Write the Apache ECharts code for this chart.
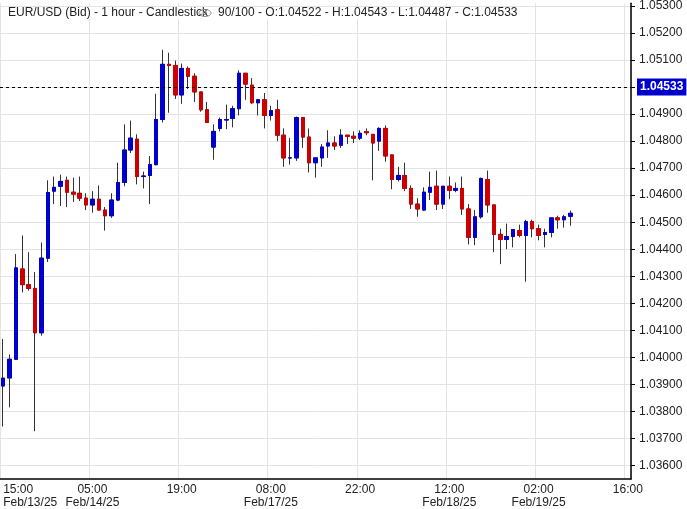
<!DOCTYPE html>
<html>
<head>
<meta charset="utf-8">
<script src="https://cdn.jsdelivr.net/npm/echarts@6/dist/echarts.min.js"></script>
<style>
  html, body { margin: 0; padding: 0; background: #fff; }
  #chart { width: 687px; height: 509px; }
</style>
</head>
<body>
<div id="chart"></div>
<script>
// trading sessions: [date, first hour, last hour] -> one category per hour
var sessions = [
  ['Feb/13/25', 15, 23],
  ['Feb/14/25', 0, 22],
  ['Feb/16/25', 22, 23],
  ['Feb/17/25', 0, 23],
  ['Feb/18/25', 0, 23],
  ['Feb/19/25', 0, 16]
];

var opens = [
  1.03894, 1.03924, 1.03993, 1.04327, 1.04269, 1.04255, 1.04091, 1.04367, 1.04615, 1.04633,
  1.04655, 1.04611, 1.04607, 1.04589, 1.04564, 1.04585, 1.04545, 1.04524, 1.04582, 1.04647,
  1.04767, 1.04807, 1.04669, 1.04673, 1.04713, 1.04880, 1.05084, 1.05080, 1.04971, 1.05069,
  1.05040, 1.04982, 1.04916, 1.04778, 1.04847, 1.04878, 1.04884, 1.04920, 1.05051, 1.05007,
  1.04942, 1.04953, 1.04895, 1.04916, 1.04822, 1.04738, 1.04738, 1.04887, 1.04815, 1.04720,
  1.04738, 1.04782, 1.04793, 1.04785, 1.04822, 1.04818, 1.04811, 1.04835, 1.04825, 1.04800,
  1.04847, 1.04749, 1.04658, 1.04673, 1.04625, 1.04567, 1.04545, 1.04611, 1.04633, 1.04567,
  1.04633, 1.04618, 1.04625, 1.04549, 1.04444, 1.04520, 1.04658, 1.04564, 1.04455, 1.04436,
  1.04447, 1.04469, 1.04451, 1.04502, 1.04476, 1.04455, 1.04462, 1.04516, 1.04509, 1.04522
];
var closes = [
  1.03923, 1.03993, 1.04331, 1.04269, 1.04255, 1.04091, 1.04367, 1.04610, 1.04629, 1.04651,
  1.04611, 1.04604, 1.04589, 1.04564, 1.04585, 1.04545, 1.04524, 1.04582, 1.04647, 1.04767,
  1.04811, 1.04669, 1.04671, 1.04713, 1.04880, 1.05084, 1.05080, 1.04971, 1.05069, 1.05040,
  1.04982, 1.04916, 1.04869, 1.04836, 1.04880, 1.04880, 1.04920, 1.05051, 1.05011, 1.04942,
  1.04953, 1.04895, 1.04913, 1.04822, 1.04738, 1.04738, 1.04887, 1.04815, 1.04720, 1.04738,
  1.04778, 1.04793, 1.04782, 1.04822, 1.04818, 1.04811, 1.04829, 1.04831, 1.04793, 1.04847,
  1.04745, 1.04658, 1.04673, 1.04625, 1.04567, 1.04549, 1.04611, 1.04629, 1.04567, 1.04633,
  1.04618, 1.04625, 1.04549, 1.04444, 1.04520, 1.04662, 1.04564, 1.04455, 1.04436, 1.04447,
  1.04473, 1.04451, 1.04502, 1.04476, 1.04451, 1.04462, 1.04516, 1.04509, 1.04520, 1.04533
];
var lows = [
  1.03744, 1.03815, 1.03990, 1.04240, 1.04247, 1.03727, 1.04080, 1.04353, 1.04567, 1.04560,
  1.04556, 1.04575, 1.04578, 1.04545, 1.04535, 1.04545, 1.04469, 1.04516, 1.04578, 1.04633,
  1.04756, 1.04640, 1.04625, 1.04567, 1.04710, 1.04869, 1.04905, 1.04956, 1.04938, 1.04993,
  1.04945, 1.04909, 1.04869, 1.04731, 1.04836, 1.04844, 1.04851, 1.04895, 1.04953, 1.04938,
  1.04895, 1.04847, 1.04876, 1.04800, 1.04705, 1.04713, 1.04727, 1.04775, 1.04684, 1.04665,
  1.04705, 1.04738, 1.04767, 1.04775, 1.04789, 1.04793, 1.04804, 1.04822, 1.04655, 1.04764,
  1.04724, 1.04622, 1.04651, 1.04615, 1.04549, 1.04520, 1.04542, 1.04582, 1.04545, 1.04549,
  1.04585, 1.04611, 1.04527, 1.04418, 1.04415, 1.04513, 1.04535, 1.04389, 1.04345, 1.04400,
  1.04407, 1.04444, 1.04280, 1.04444, 1.04433, 1.04407, 1.04444, 1.04476, 1.04480, 1.04487
];
var highs = [
  1.04068, 1.04011, 1.04382, 1.04451, 1.04389, 1.04316, 1.04425, 1.04655, 1.04669, 1.04676,
  1.04669, 1.04665, 1.04669, 1.04607, 1.04615, 1.04636, 1.04556, 1.04607, 1.04720, 1.04862,
  1.04876, 1.04825, 1.04687, 1.04745, 1.04975, 1.05138, 1.05127, 1.05098, 1.05087, 1.05076,
  1.05051, 1.04982, 1.04945, 1.04862, 1.04887, 1.04935, 1.04931, 1.05062, 1.05051, 1.05033,
  1.04956, 1.04978, 1.04931, 1.04953, 1.04847, 1.04811, 1.04891, 1.04887, 1.04847, 1.04738,
  1.04789, 1.04840, 1.04818, 1.04844, 1.04822, 1.04836, 1.04840, 1.04847, 1.04825, 1.04851,
  1.04858, 1.04749, 1.04705, 1.04720, 1.04636, 1.04589, 1.04629, 1.04687, 1.04691, 1.04633,
  1.04669, 1.04647, 1.04669, 1.04567, 1.04545, 1.04665, 1.04691, 1.04564, 1.04476, 1.04495,
  1.04473, 1.04491, 1.04509, 1.04509, 1.04491, 1.04476, 1.04516, 1.04524, 1.04527, 1.04543
];
var yTicks = [1.036, 1.037, 1.038, 1.039, 1.040, 1.041, 1.042, 1.043, 1.044, 1.045,
              1.046, 1.047, 1.048, 1.049, 1.050, 1.051, 1.052, 1.053];
var lastPrice = 1.04533;

var cats = [], catDates = [];
sessions.forEach(function (s) {
  for (var h = s[1]; h <= s[2]; h++) {
    cats.push((h < 10 ? '0' : '') + h + ':00');
    catDates.push(s[0]);
  }
});

var wickData = [], bodyData = [];
for (var i = 0; i < opens.length; i++) {
  wickData.push([opens[i], closes[i], lows[i], highs[i]]);
  bodyData.push([opens[i], closes[i], Math.min(opens[i], closes[i]), Math.max(opens[i], closes[i])]);
}

var chart = echarts.init(document.getElementById('chart'));
var option = {
  animation: false,
  textStyle: { fontFamily: 'Liberation Sans, Arial, sans-serif' },
  grid: { left: 0, right: 56, top: 0, bottom: 25 },
  graphic: [
    { type: 'text', left: 8, top: 7, z: 100, style: { text: 'EUR/USD (Bid) - 1 hour - Candlestick', fill: '#222', font: '12px Liberation Sans', backgroundColor: '#fff' } },
    { type: 'ellipse', z: 100, shape: { cx: 205, cy: 13, rx: 6, ry: 3.5 }, style: { fill: 'none', stroke: '#888', lineWidth: 1 } },
    { type: 'circle', z: 100, shape: { cx: 205, cy: 13, r: 1.6 }, style: { fill: 'none', stroke: '#888', lineWidth: 1 } },
    { type: 'text', left: 218, top: 7, z: 100, style: { text: '90/100 - O:1.04522 - H:1.04543 - L:1.04487 - C:1.04533', fill: '#222', font: '12px Liberation Sans', backgroundColor: '#fff' } }
  ],
  xAxis: {
    type: 'category',
    data: cats,
    boundaryGap: true,
    axisLine: { lineStyle: { color: '#000', width: 1.5 } },
    axisTick: { show: false },
    axisLabel: {
      interval: 13,
      color: '#222',
      fontSize: 12,
      lineHeight: 13,
      margin: 4,
      alignMinLabel: 'left',
      formatter: function (v, idx) {
        if (idx === 0 || catDates[idx] !== catDates[idx - 14]) {
          return v + '\n' + catDates[idx];
        }
        return v;
      }
    },
    splitLine: { show: true, interval: 13, lineStyle: { color: '#e3e3e3' } }
  },
  yAxis: {
    type: 'value',
    position: 'right',
    min: 1.0355,
    max: 1.0531,
    axisLine: { show: true, lineStyle: { color: '#000', width: 1.5 } },
    axisTick: { show: true, customValues: yTicks, length: 4, lineStyle: { color: '#000' } },
    axisLabel: {
      customValues: yTicks,
      color: '#222',
      fontSize: 12,
      margin: 8,
      formatter: function (v) { return v.toFixed(5); }
    },
    splitLine: { show: true, customValues: yTicks, lineStyle: { color: '#e3e3e3' } }
  },
  series: [
    {
      type: 'candlestick',
      data: wickData,
      barWidth: 4,
      itemStyle: { color: '#333', color0: '#333', borderColor: '#333', borderColor0: '#333', borderWidth: 1 }
    },
    {
      type: 'candlestick',
      data: bodyData,
      barWidth: 4,
      itemStyle: { color: '#0000cc', color0: '#cc0000', borderColor: '#0000cc', borderColor0: '#cc0000', borderWidth: 1 }
    },
    {
      // last price line
      type: 'line',
      data: [[cats.length - 1, lastPrice]],
      symbol: 'none',
      lineStyle: { opacity: 0 },
      markLine: {
        symbol: 'none',
        silent: true,
        lineStyle: { color: '#000', type: [3, 3], width: 1 },
        label: {
          position: 'end',
          formatter: lastPrice.toFixed(5),
          color: '#fff',
          fontWeight: 'bold',
          fontSize: 12,
          backgroundColor: '#0000cc',
          padding: [3, 3, 2, 3],
          distance: 6
        },
        data: [{ yAxis: lastPrice }]
      }
    }
  ]
};
chart.setOption(option);
</script>
</body>
</html>
